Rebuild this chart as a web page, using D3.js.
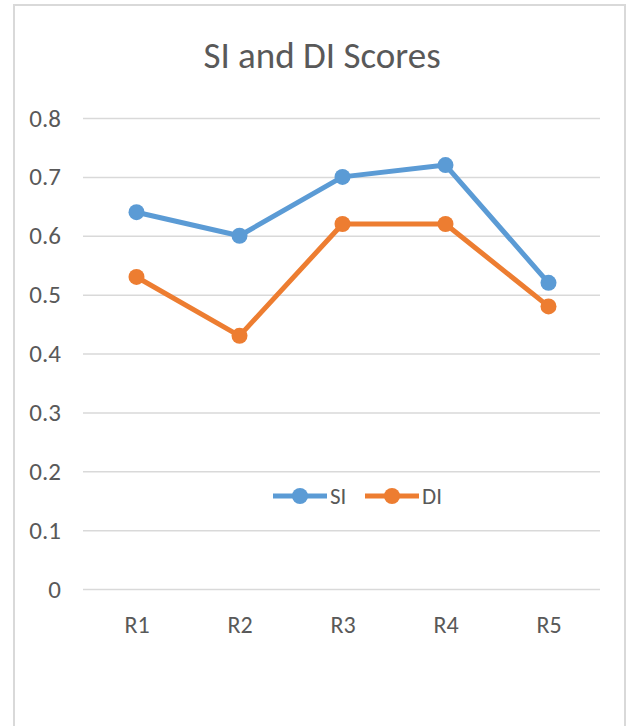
<!DOCTYPE html>
<html>
<head>
<meta charset="utf-8">
<script src="https://cdn.jsdelivr.net/npm/d3@7"></script>
<style>
  body { margin: 0; background: #fff; }
  svg { display: block; font-family: Carlito, "Liberation Sans Narrow", "Open Sans", sans-serif; }
</style>
</head>
<body>
<svg id="chart" width="632" height="726"></svg>
<script>
// chart data
var categories = ["R1", "R2", "R3", "R4", "R5"];
var siValues = [0.64, 0.60, 0.70, 0.72, 0.52];
var diValues = [0.53, 0.43, 0.62, 0.62, 0.48];
var yTicks = [0, 0.1, 0.2, 0.3, 0.4, 0.5, 0.6, 0.7, 0.8];

var series = [
  { name: "SI", values: siValues, color: "#5b9bd5" },
  { name: "DI", values: diValues, color: "#ed7d31" }
];

var font = 'Carlito, "Liberation Sans Narrow", "Open Sans", sans-serif';
var svg = d3.select("#chart");

// outer frame
svg.append("rect")
  .attr("x", 14).attr("y", 5)
  .attr("width", 611).attr("height", 730)
  .attr("fill", "#fff")
  .attr("stroke", "#d9d9d9")
  .attr("stroke-width", 2);

// scales
var xScale = d3.scalePoint().domain(categories).range([85, 600]).padding(0.5);
var yScale = d3.scaleLinear().domain([0, 0.8]).range([589, 118]);

// title
svg.append("text")
  .attr("x", 322).attr("y", 68)
  .attr("text-anchor", "middle")
  .style("font-size", "37px")
  .style("fill", "#595959")
  .text("SI and DI Scores");

// gridlines + y labels
var yAxis = d3.axisLeft(yScale)
  .tickValues(yTicks)
  .tickSize(-517)
  .tickPadding(22)
  .tickFormat(function(d) { return d === 0 ? "0" : d3.format(".1f")(d); });

var gy = svg.append("g")
  .attr("transform", "translate(83,0)")
  .call(yAxis)
  .attr("font-family", font)
  .attr("font-size", 25);
gy.select(".domain").remove();
gy.selectAll(".tick line").attr("stroke", "#d9d9d9").attr("stroke-width", 1.5);
gy.selectAll(".tick text").attr("fill", "#595959");

// category labels
var xAxis = d3.axisBottom(xScale).tickSize(0);
var gx = svg.append("g")
  .attr("transform", "translate(0,589)")
  .call(xAxis)
  .attr("font-family", font)
  .attr("font-size", 24);
gx.select(".domain").remove();
gx.selectAll(".tick text")
  .attr("fill", "#595959")
  .attr("dy", null)
  .attr("y", 44);

// lines and markers
var line = d3.line()
  .x(function(d, i) { return xScale(categories[i]); })
  .y(function(d) { return yScale(d); });

series.forEach(function(s) {
  svg.append("path")
    .attr("d", line(s.values))
    .attr("fill", "none")
    .attr("stroke", s.color)
    .attr("stroke-width", 5)
    .attr("stroke-linejoin", "round");

  svg.selectAll(null)
    .data(s.values)
    .enter()
    .append("circle")
    .attr("cx", function(d, i) { return xScale(categories[i]); })
    .attr("cy", function(d) { return yScale(d); })
    .attr("r", 8)
    .attr("fill", s.color);
});

// legend
var legend = svg.append("g").attr("transform", "translate(273,496)");
var legItems = legend.selectAll("g")
  .data(series)
  .enter()
  .append("g")
  .attr("transform", function(d, i) { return "translate(" + (i * 92) + ",0)"; });

legItems.append("line")
  .attr("x1", 0).attr("x2", 54)
  .attr("stroke", function(d) { return d.color; })
  .attr("stroke-width", 5);

legItems.append("circle")
  .attr("cx", 27).attr("r", 8)
  .attr("fill", function(d) { return d.color; });

legItems.append("text")
  .attr("x", 57).attr("y", 8)
  .style("font-size", "23px")
  .style("fill", "#595959")
  .text(function(d) { return d.name; });
</script>
</body>
</html>
